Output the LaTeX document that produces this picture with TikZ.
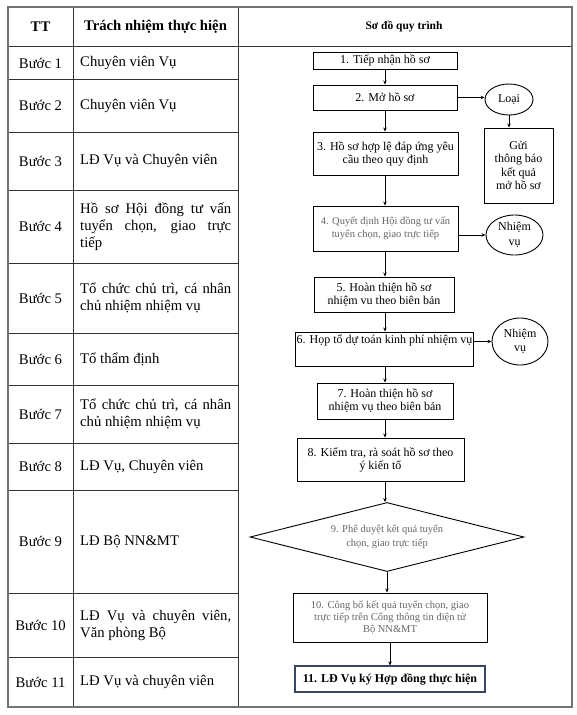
\documentclass[tikz,border=0pt]{standalone}
\usepackage{fontspec}
\setmainfont{Liberation Serif}
\usetikzlibrary{shapes.geometric,arrows.meta}
\begin{document}
\begin{tikzpicture}[x=1pt,y=-1pt,
  grid/.style={draw=black!80,line width=0.7pt},
  outer/.style={draw=black!55,line width=1.3pt},
  tcell/.style={font=\fontsize{14.7}{17}\selectfont,inner sep=0pt},
  tleft/.style={tcell,text width=151pt,align=justify,anchor=west},
  hdr/.style={font=\bfseries\fontsize{14.7}{17}\selectfont,inner sep=0pt},
  fbox/.style={draw=black,line width=0.9pt,rectangle,inner sep=1pt,align=center,font=\fontsize{12}{13}\selectfont},
  gbox/.style={fbox,text=black!60,font=\fontsize{10.5}{13}\selectfont},
  fell/.style={draw=black,line width=0.9pt,ellipse,inner sep=0pt,align=center,font=\fontsize{12}{14.5}\selectfont},
  arr/.style={draw=black,line width=0.8pt,-{Stealth[length=4pt,width=3.5pt]}}
]
\useasboundingbox (0,0) rectangle (576,715);
\fill[white] (0,0) rectangle (576,715);
% table grid
\draw[grid] (8,46) -- (572,46);
\draw[grid] (73,7) -- (73,707);
\draw[grid] (238,7) -- (238,707);
\foreach \yy in {79,132,190,263,333,385,443,490,593,657}{
  \draw[grid] (8,\yy) -- (238,\yy);
}
\draw[outer] (8,7) rectangle (572,707);
% headers
\node[hdr] (hTT) at (40.5,27) {TT};
\node[hdr] (hTN) at (155.5,27) {Trách nhiệm thực hiện};
\node[font=\bfseries\fontsize{11.5}{13}\selectfont,inner sep=0pt] (hSD) at (404,27) {Sơ đồ quy trình};
% column 1
\node[tcell] (s1) at (40.5,63) {Bước 1};
\node[tcell] (s2) at (40.5,105.5) {Bước 2};
\node[tcell] (s3) at (40.5,161) {Bước 3};
\node[tcell] (s4) at (40.5,226.5) {Bước 4};
\node[tcell] (s5) at (40.5,298) {Bước 5};
\node[tcell] (s6) at (40.5,359) {Bước 6};
\node[tcell] (s7) at (40.5,414) {Bước 7};
\node[tcell] (s8) at (40.5,466.5) {Bước 8};
\node[tcell] (s9) at (40.5,541.5) {Bước 9};
\node[tcell] (s10) at (40.5,625) {Bước 10};
\node[tcell] (s11) at (40.5,682) {Bước 11};
% column 2
\node[tleft] (r1) at (80,63) {Chuyên viên Vụ};
\node[tleft] (r2) at (80,105.5) {Chuyên viên Vụ};
\node[tleft] (r3) at (80,161) {LĐ Vụ và Chuyên viên};
\node[tleft] (r4) at (80,226.5) {Hồ sơ Hội đồng tư vấn\linebreak tuyển chọn, giao trực\linebreak tiếp};
\node[tleft] (r5) at (80,298) {Tổ chức chủ trì, cá nhân\linebreak chủ nhiệm nhiệm vụ};
\node[tleft] (r6) at (80,359) {Tổ thẩm định};
\node[tleft] (r7) at (80,414) {Tổ chức chủ trì, cá nhân\linebreak chủ nhiệm nhiệm vụ};
\node[tleft] (r8) at (80,466.5) {LĐ Vụ, Chuyên viên};
\node[tleft] (r9) at (80,541.5) {LĐ Bộ NN\&MT};
\node[tleft] (r10) at (80,625) {LĐ Vụ và chuyên viên,\linebreak Văn phòng Bộ};
\node[tleft] (r11) at (80,682) {LĐ Vụ và chuyên viên};
% flowchart
\coordinate (ax) at (385,0);
\node[fbox,minimum width=144pt,minimum height=17pt] (b1) at (385,60.5) {1. Tiếp nhận hồ sơ};
\node[fbox,minimum width=144pt,minimum height=25pt] (b2) at (385,97.5) {2. Mở hồ sơ};
\node[fbox,minimum width=145pt,minimum height=43pt] (b3) at (385.5,153.5) {3. Hồ sơ hợp lệ đáp ứng yêu\\cầu theo quy định};
\node[gbox,minimum width=145pt,minimum height=45pt] (b4) at (385.5,228.5) {4. Quyết định Hội đồng tư vấn\\tuyển chọn, giao trực tiếp};
\node[fbox,minimum width=140pt,minimum height=35pt] (b5) at (384,294.5) {5. Hoàn thiện hồ sơ\\nhiệm vu theo biên bản};
\node[draw=black,line width=0.9pt,rectangle,minimum width=178pt,minimum height=34pt] (b6) at (384,349) {};
\node[font=\fontsize{12}{13}\selectfont,inner sep=0pt,anchor=north] (b6t) at (384.5,335) {6. Họp tổ dự toán kinh phí nhiệm vụ};
\node[fbox,minimum width=136pt,minimum height=36pt] (b7) at (385,401) {7. Hoàn thiện hồ sơ\\nhiệm vụ theo biên bản};
\node[fbox,minimum width=167pt,minimum height=43pt] (b8) at (380.5,459.5) {8. Kiểm tra, rà soát hồ sơ theo\\ý kiến tổ};
\node[draw=black,line width=0.9pt,diamond,aspect=3.95,minimum width=274pt,minimum height=69pt,inner sep=0pt,align=center,text=black!60,font=\fontsize{10.5}{14}\selectfont] (d9) at (387,537) {9. Phê duyệt kết quả tuyển\\chọn, giao trực tiếp};
\node[gbox,minimum width=194pt,minimum height=49pt,font=\fontsize{10.5}{12}\selectfont] (b10) at (390,617.5) {10. Công bố kết quả tuyển chọn, giao\\trực tiếp trên Cổng thông tin điện tử\\Bộ NN\&MT};
\node[fbox,draw={rgb,255:red,55;green,70;blue,100},line width=1.2pt,minimum width=190pt,minimum height=26pt,font=\bfseries\fontsize{12}{13}\selectfont] (b11) at (390,679) {11. LĐ Vụ ký Hợp đồng thực hiện};
\node[fell,minimum width=48pt,minimum height=31pt] (loai) at (509,99.5) {Loại};
\node[fbox,minimum width=69pt,minimum height=75pt,font=\fontsize{12}{13.5}\selectfont] (gui) at (518.5,165.5) {Gửi\\thông báo\\kết quả\\mở hồ sơ};
\node[fell,minimum width=57pt,minimum height=40pt] (nv1) at (514.5,235) {Nhiệm\\vụ};
\node[fell,minimum width=56pt,minimum height=47pt] (nv2) at (520,341.5) {Nhiệm\\vụ};
% arrows
\draw[arr] (b1.south -| ax) -- (b2.north -| ax);
\draw[arr] (b2.south -| ax) -- (b3.north -| ax);
\draw[arr] (b3.south -| ax) -- (b4.north -| ax);
\draw[arr] (b4.south -| ax) -- (b5.north -| ax);
\draw[arr] (b5.south -| ax) -- (b6.north -| ax);
\draw[arr] (b6.south -| ax) -- (b7.north -| ax);
\draw[arr] (b7.south -| ax) -- (b8.north -| ax);
\draw[arr] (b8.south -| ax) -- (d9.north -| ax);
\draw[arr] (d9.south) -- (d9.south |- b10.north);
\draw[arr] (b10.south) -- (b11.north);
\draw[arr] (b2.east) -- (b2.east -| loai.west);
\draw[arr] (loai.south -| 509,0) -- (gui.north -| 509,0);
\draw[arr] (b4.east |- nv1.west) -- (nv1.west);
\draw[arr] (b6.east |- nv2.west) -- (nv2.west);
\end{tikzpicture}
\end{document}
